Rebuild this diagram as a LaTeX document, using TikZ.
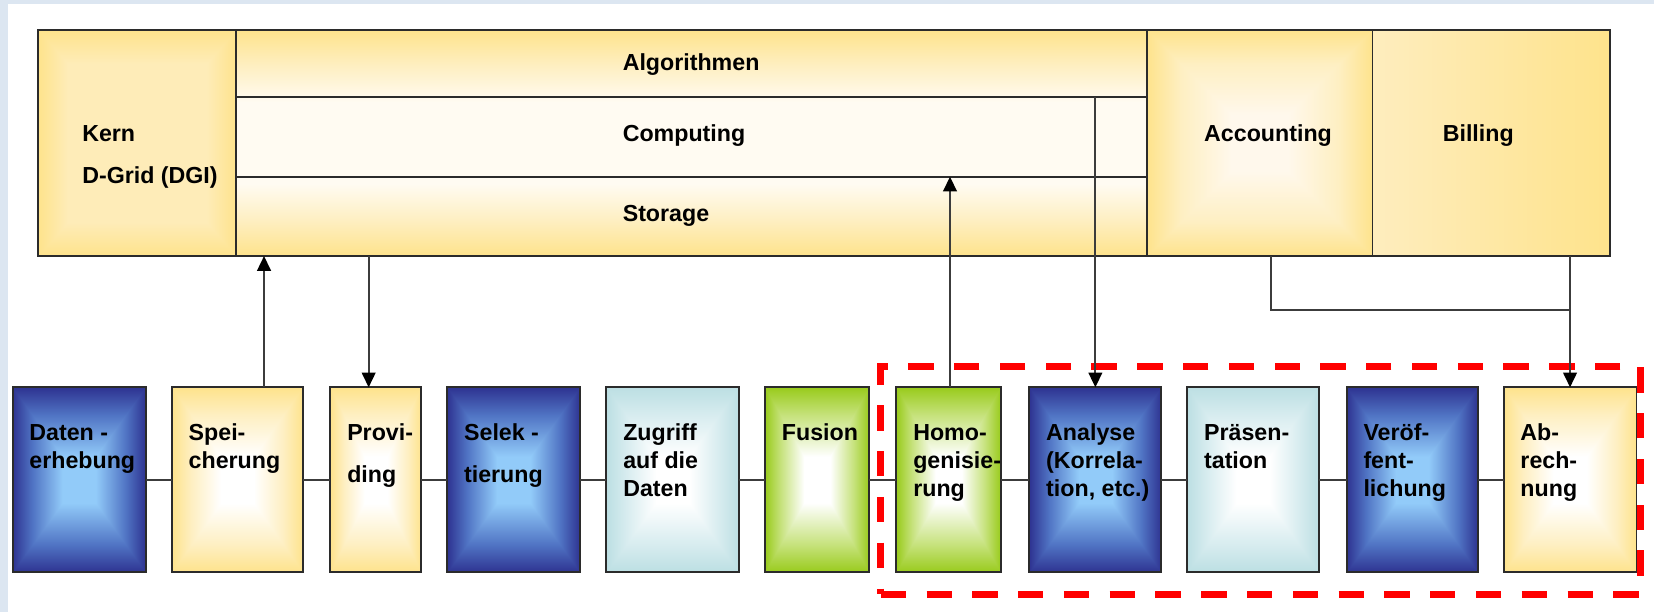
\documentclass[tikz,border=0pt]{standalone}
\usepackage{fontspec}
\setmainfont{Liberation Sans}
\usetikzlibrary{arrows.meta,calc}

% first-line strut so that multi-line labels can be placed by their top edge
\newcommand\firstln{\rule{0pt}{9pt}}

\definecolor{stripblue}{HTML}{DCE6F1}
\definecolor{navy}{HTML}{2E3391}
\definecolor{bluemid}{HTML}{5074C4}
\definecolor{skyc}{HTML}{92CBF9}
\definecolor{sunny}{HTML}{FEE38C}
\definecolor{sunmid}{HTML}{FEEFC2}
\definecolor{kernmid}{HTML}{FEECB8}
\definecolor{accmid}{HTML}{FFF8EC}
\definecolor{midwhite}{HTML}{FFFBF2}
\definecolor{billmid}{HTML}{FEEDBE}
\definecolor{aqua}{HTML}{BCDFE3}
\definecolor{aquamid}{HTML}{D7ECEF}
\definecolor{lime}{HTML}{99CB1C}
\definecolor{limemid}{HTML}{C6E27C}
\definecolor{edgegrey}{HTML}{2B2B2B}
\definecolor{wiregrey}{HTML}{3C3C3C}

% rectangular "from centre" gradient: one vertical band plus left/right halves
% #1 name, #2 edge colour, #3 intermediate colour, #4 centre colour
\newcommand\declgrad[4]{%
  \pgfdeclareverticalshading{#1-v}{100bp}{color(0bp)=(#2); color(25bp)=(#2);
    color(32.5bp)=(#3); color(43.75bp)=(#4); color(56.25bp)=(#4);
    color(67.5bp)=(#3); color(75bp)=(#2); color(100bp)=(#2)}%
  \pgfdeclarehorizontalshading{#1-l}{100bp}{color(0bp)=(#2); color(25bp)=(#2);
    color(40bp)=(#3); color(62.5bp)=(#4); color(100bp)=(#4)}%
  \pgfdeclarehorizontalshading{#1-r}{100bp}{color(0bp)=(#4); color(37.5bp)=(#4);
    color(60bp)=(#3); color(75bp)=(#2); color(100bp)=(#2)}%
}
\declgrad{gblue}{navy}{bluemid}{skyc}
\declgrad{gyellow}{sunny}{sunmid}{white}
\declgrad{gaqua}{aqua}{aquamid}{white}
\declgrad{glime}{lime}{limemid}{white}
\declgrad{gkern}{sunny}{kernmid}{kernmid}
\declgrad{gacc}{sunny}{sunmid}{accmid}

% yellow - white - yellow band for the three middle rows
\pgfdeclareverticalshading{midfade}{100bp}{color(0bp)=(sunny); color(25bp)=(sunny);
  color(33bp)=(sunmid); color(41bp)=(midwhite); color(59bp)=(midwhite);
  color(67bp)=(sunmid); color(75bp)=(sunny); color(100bp)=(sunny)}

\tikzset{
  pgrad/.style={path picture={
    \shade[shading=#1-v]
      (path picture bounding box.south west) rectangle (path picture bounding box.north east);
    \begin{scope}
      \clip (path picture bounding box.south west) -- (path picture bounding box.north west)
        -- (path picture bounding box.center) -- cycle;
      \shade[shading=#1-l]
        (path picture bounding box.south west) rectangle (path picture bounding box.north);
    \end{scope}
    \begin{scope}
      \clip (path picture bounding box.south east) -- (path picture bounding box.north east)
        -- (path picture bounding box.center) -- cycle;
      \shade[shading=#1-r]
        (path picture bounding box.south) rectangle (path picture bounding box.north east);
    \end{scope}
  }},
  boxline/.style={draw=edgegrey, line width=0.9pt, rectangle, inner sep=0pt, outer sep=0pt},
  stepbox/.style={boxline, minimum height=87.7pt},
  bluebox/.style={stepbox, pgrad=gblue},
  yellowbox/.style={stepbox, pgrad=gyellow},
  aquabox/.style={stepbox, pgrad=gaqua},
  greenbox/.style={stepbox, pgrad=glime},
  wire/.style={draw=wiregrey, line width=0.9pt},
  arr/.style={wire, -{Triangle[length=7pt,width=6.5pt,color=black]}},
  lbl/.style={font=\fontsize{11}{13.2}\selectfont\bfseries, inner sep=0pt, outer sep=0pt,
    align=left, text=black},
  redframe/.style={draw=red, line width=3.4pt, dash pattern=on 12pt off 9.7pt,
    rectangle, inner sep=0pt, outer sep=0pt},
}

\begin{document}
\begin{tikzpicture}[x=0.5pt,y=-0.5pt]
\useasboundingbox (0,0) rectangle (1568,580);
\fill[white] (0,0) rectangle (1568,580);
\fill[stripblue] (0,0) rectangle (7.3,580);
\fill[stripblue] (0,0) rectangle (1568,3.8);

% ---- infrastructure block ----
\node[boxline, minimum width=93.8pt, minimum height=107.15pt, pgrad=gkern] (kern) at (130.1,135.55) {};
\node[boxline, minimum width=431.75pt, minimum height=107.15pt, shading=midfade] (mid) at (655.65,135.55) {};
\node[boxline, minimum width=431.75pt, minimum height=31.65pt] (alg) at (655.65,60.05) {};
\node[boxline, minimum width=431.75pt, minimum height=37.9pt] (comp) at (655.65,129.6) {};
\node[boxline, minimum width=431.75pt, minimum height=37.6pt] (stor) at (655.65,205.1) {};
\node[boxline, minimum width=106.85pt, minimum height=107.15pt, pgrad=gacc] (acc) at (1194.25,135.55) {};
\node[boxline, minimum width=112.55pt, minimum height=107.15pt, left color=billmid, right color=sunny] (bill) at (1413.65,135.55) {};

\node[lbl, anchor=north west] (tkern) at (78,116.3) {\firstln Kern\\[6.55pt]D-Grid (DGI)};
\node[lbl, anchor=base west] (talg) at (590.4,66.4) {Algorithmen};
\node[lbl, anchor=base west] (tcomp) at (590.4,134.3) {Computing};
\node[lbl, anchor=base west] (tstor) at (590.4,210.2) {Storage};
\node[lbl, anchor=base west] (tacc) at (1141.6,134.3) {Accounting};
\node[lbl, anchor=base west] (tbill) at (1367.8,134.3) {Billing};

% ---- process chain ----
\node[bluebox,   minimum width=63.1pt]  (b1)  at (75.0,454.9) {};
\node[yellowbox, minimum width=62.15pt] (b2)  at (225.05,454.9) {};
\node[yellowbox, minimum width=43.15pt] (b3)  at (356.35,454.9) {};
\node[bluebox,   minimum width=62.95pt] (b4)  at (486.95,454.9) {};
\node[aquabox,   minimum width=62.8pt]  (b5)  at (637.7,454.9) {};
\node[greenbox,  minimum width=49.4pt]  (b6)  at (774.7,454.9) {};
\node[greenbox,  minimum width=49.45pt] (b7)  at (899.25,454.9) {};
\node[bluebox,   minimum width=62.6pt]  (b8)  at (1038.4,454.9) {};
\node[aquabox,   minimum width=62.35pt] (b9)  at (1187.85,454.9) {};
\node[bluebox,   minimum width=62.25pt] (b10) at (1338.85,454.9) {};
\node[yellowbox, minimum width=63pt]    (b11) at (1488.4,454.9) {};

% highlighted part of the chain
\node[redframe, minimum width=360pt, minimum height=107.95pt] (focus) at (1195,455.55) {};

% ---- connectors ----
\foreach \a/\b in {b1/b2,b2/b3,b3/b4,b4/b5,b5/b6,b6/b7,b7/b8,b8/b9,b9/b10,b10/b11}
  \draw[wire] (\a.east) -- (\b.west);

\coordinate (spx) at (250.3,0);
\coordinate (pvx) at (349.5,0);
\coordinate (hmx) at (900.6,0);
\coordinate (acx) at (1205.3,0);
\coordinate (jn) at (1488.4,293.9);

\draw[arr] (b2.north -| spx) -- (mid.south -| spx);
\draw[arr] (mid.south -| pvx) -- (b3.north -| pvx);
\draw[arr] (b7.north -| hmx) -- (stor.north -| hmx);
\draw[arr] (comp.north -| b8.north) -- (b8.north);
\draw[wire] (acc.south -| acx) |- (jn);
\draw[arr] (bill.south -| b11.north) -- (b11.north);

% ---- step labels ----
\node[lbl, anchor=north west] (t1)  at ($(b1.north west)+(16,32.4)$)  {\firstln Daten -\\erhebung};
\node[lbl, anchor=north west] (t2)  at ($(b2.north west)+(16,32.4)$)  {\firstln Spei-\\cherung};
\node[lbl, anchor=north west] (t3)  at ($(b3.north west)+(16,32.4)$)  {\firstln Provi-\\[6.85pt]ding};
\node[lbl, anchor=north west] (t4)  at ($(b4.north west)+(16,32.4)$)  {\firstln Selek -\\[6.85pt]tierung};
\node[lbl, anchor=north west] (t5)  at ($(b5.north west)+(16,32.4)$)  {\firstln Zugriff\\auf die\\Daten};
\node[lbl, anchor=north west] (t6)  at ($(b6.north west)+(16,32.4)$)  {\firstln Fusion};
\node[lbl, anchor=north west] (t7)  at ($(b7.north west)+(16,32.4)$)  {\firstln Homo-\\genisie-\\rung};
\node[lbl, anchor=north west] (t8)  at ($(b8.north west)+(16,32.4)$)  {\firstln Analyse\\(Korrela-\\tion, etc.)};
\node[lbl, anchor=north west] (t9)  at ($(b9.north west)+(16,32.4)$)  {\firstln Präsen-\\tation};
\node[lbl, anchor=north west] (t10) at ($(b10.north west)+(16,32.4)$) {\firstln Veröf-\\fent-\\lichung};
\node[lbl, anchor=north west] (t11) at ($(b11.north west)+(16,32.4)$) {\firstln Ab-\\rech-\\nung};
\end{tikzpicture}
\end{document}
